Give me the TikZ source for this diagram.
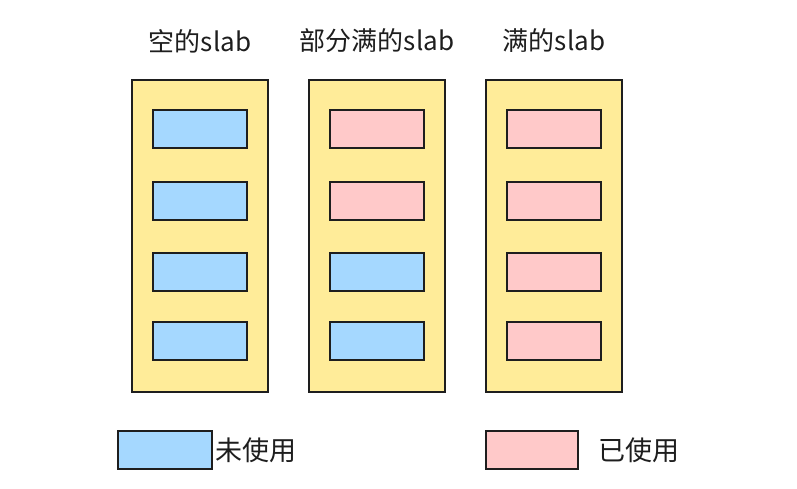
\documentclass[tikz,border=0pt]{standalone}
\usepackage{fontspec}
\setmainfont{Noto Sans CJK SC}
\usepackage{tikz}
\usetikzlibrary{positioning}
\definecolor{slabyellow}{HTML}{FFEC99}
\definecolor{freeblue}{HTML}{A5D8FF}
\definecolor{usedpink}{HTML}{FFC9C9}
\definecolor{ink}{HTML}{1E1E1E}

\begin{document}
\begin{tikzpicture}[x=1pt, y=-1pt, line width=2pt,
    slab/.style={draw=ink, fill=slabyellow, minimum width=136pt, minimum height=312pt, inner sep=0pt},
    obj/.style={draw=ink, minimum width=94pt, minimum height=38pt, inner sep=0pt},
    label/.style={font=\fontsize{26}{30}\selectfont, text=ink, inner sep=1pt},
    key/.style={label, font=\fontsize{27}{31}\selectfont}]
        \useasboundingbox (0,0) rectangle (797,489);

        % slabs with their objects
        \foreach \name/\x/\t/\fa/\fb/\fc/\fd in {empty/200/空的slab/freeblue/freeblue/freeblue/freeblue,
                partial/377/部分满的slab/usedpink/usedpink/freeblue/freeblue,
                full/554/满的slab/usedpink/usedpink/usedpink/usedpink}
        {
            \node[slab] (\name) at (\x,236) {};
            \node[label] (\name-title) at (\x,41) {\t};
            \node[obj, fill=\fa] (\name-1) at (\x,129) {};
            \node[obj, fill=\fb] (\name-2) at (\x,201) {};
            \node[obj, fill=\fc] (\name-3) at (\x,272) {};
            \node[obj, fill=\fd] (\name-4) at (\x,341) {};
        }

        % legend
        \node[obj, fill=freeblue] (freekey) at (165,450) {};
        \node[key, right=0pt of freekey] (freetext) {未使用};
        \node[obj, fill=usedpink, minimum width=92pt] (usedkey) at (532,450) {};
        \node[key, right=17pt of usedkey] (usedtext) {已使用};
    \end{tikzpicture}
\end{document}
